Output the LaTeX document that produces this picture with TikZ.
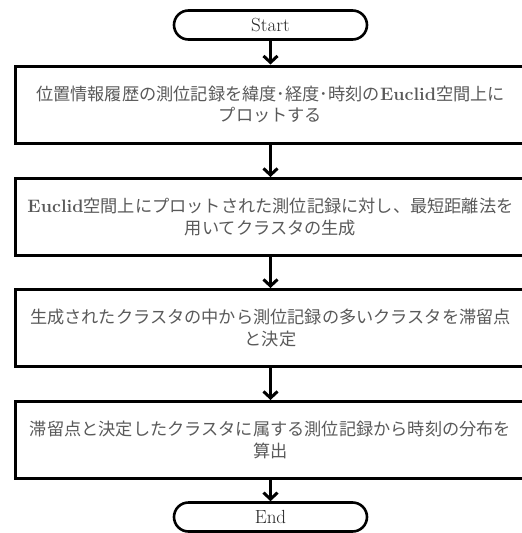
\documentclass[tikz,border=0pt]{standalone}
\usepackage{fontspec}
\newfontfamily\jp{Noto Sans CJK JP}
\usetikzlibrary{arrows.meta}
\newcommand{\eu}{{\fontsize{18}{21.5}\selectfont\textbf{Euclid}}}
\begin{document}
\begin{tikzpicture}[x=1pt,y=-1pt,
  proc/.style={draw,line width=3pt,rectangle,minimum width=511pt,minimum height=77pt,
    inner sep=0pt,align=center,text=black!65,font=\fontsize{17.2}{21.5}\selectfont},
  term/.style={draw,line width=2.6pt,rectangle,rounded corners=14.5pt,minimum width=193pt,
    minimum height=29pt,inner sep=0pt,text=black!85,font=\fontsize{19}{21}\selectfont},
  arr/.style={line width=3pt,-{Straight Barb[length=6.5pt,width=14pt]}}]
\useasboundingbox (0,0) rectangle (522,533);
\clip (0,0) rectangle (522,533);
\node[term] (start) at (270.5,25) {Start};
\node[proc] (b1) at (270.5,104.5) {{\jp 位置情報履歴の測位記録を緯度･経度･時刻の}\eu{\jp 空間上に}\\{\jp プロットする}};
\node[proc] (b2) at (270.5,217) {\eu{\jp 空間上にプロットされた測位記録に対し、最短距離法を}\\{\jp 用いてクラスタの生成}};
\node[proc] (b3) at (270.5,328) {{\jp 生成されたクラスタの中から測位記録の多いクラスタを滞留点}\\{\jp と決定}};
\node[proc] (b4) at (270.5,440) {{\jp 滞留点と決定したクラスタに属する測位記録から時刻の分布を}\\{\jp 算出}};
\node[term] (end) at (270.5,517) {End};
\draw[arr] (start) -- (b1);
\draw[arr] (b1) -- (b2);
\draw[arr] (b2) -- (b3);
\draw[arr] (b3) -- (b4);
\draw[arr] (b4) -- (end);
\end{tikzpicture}
\end{document}
